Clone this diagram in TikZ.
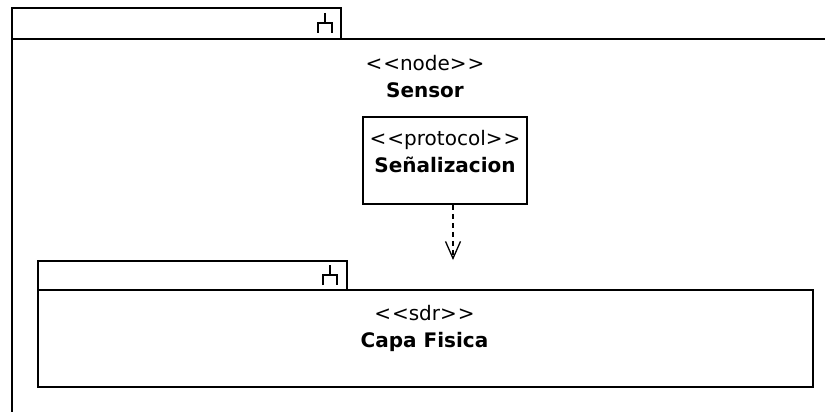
\documentclass[tikz,border=0pt]{standalone}
\usepackage{fontspec}
\setmainfont{DejaVu Sans}
\usetikzlibrary{arrows.meta,positioning}

\tikzset{
  umlbox/.style={draw, line width=1.8pt, rectangle, inner sep=0pt},
  stereo/.style={align=center, font=\fontsize{20}{27}\selectfont},
  depline/.style={line width=1.3pt, dash pattern=on 5pt off 4pt,
    -{Straight Barb[length=17pt,width=15pt,line width=1.3pt]}},
}
% << >> written apart, so that no guillemet is made
\newcommand{\stereotype}[1]{<\kern1pt<#1>\kern1pt>}
% small fork sign of a package tab, #1 = top of its stem
\newcommand{\forksign}[1]{%
  \draw[line width=1.6pt] (#1) -- ++(0,10) ++(-7,10) -- ++(0,-10) -- ++(14,0) -- ++(0,10);}

\begin{document}
\begin{tikzpicture}[x=1pt,y=-1pt]
    \useasboundingbox (0,0) rectangle (825,412);
    \clip (0,0) rectangle (825,412);

    % Outer node Sensor
    \node[umlbox, minimum width=329pt, minimum height=31pt, anchor=north west] (sensortab) at (11,7) {};
    \node[umlbox, minimum width=830pt, minimum height=420pt, anchor=north west] (sensorbody) at (11,38) {};
    \forksign{325,13}
    \node[stereo] (sensorname) at (425,77) {\stereotype{node}\\\textbf{Sensor}};

    % Protocol
    \node[umlbox, minimum width=164pt, minimum height=87pt] (signal) at (445,160.5) {};
    \node[stereo] (signalname) at (445,152) {\stereotype{protocol}\\\textbf{Señalizacion}};

    % Inner package Capa Fisica
    \node[umlbox, minimum width=309pt, minimum height=29pt, anchor=north west] (capatab) at (37,260) {};
    \node[umlbox, minimum width=775pt, minimum height=97pt, anchor=north west] (capabody) at (37,289) {};
    \forksign{330,265}
    \node[stereo] (capaname) at (424.5,328) {\stereotype{sdr}\\\textbf{Capa Fisica}};

    % Dependency
    \coordinate (depend) at (453,260);
    \draw[depline] (signal.south -| depend) -- (depend);
\end{tikzpicture}
\end{document}
